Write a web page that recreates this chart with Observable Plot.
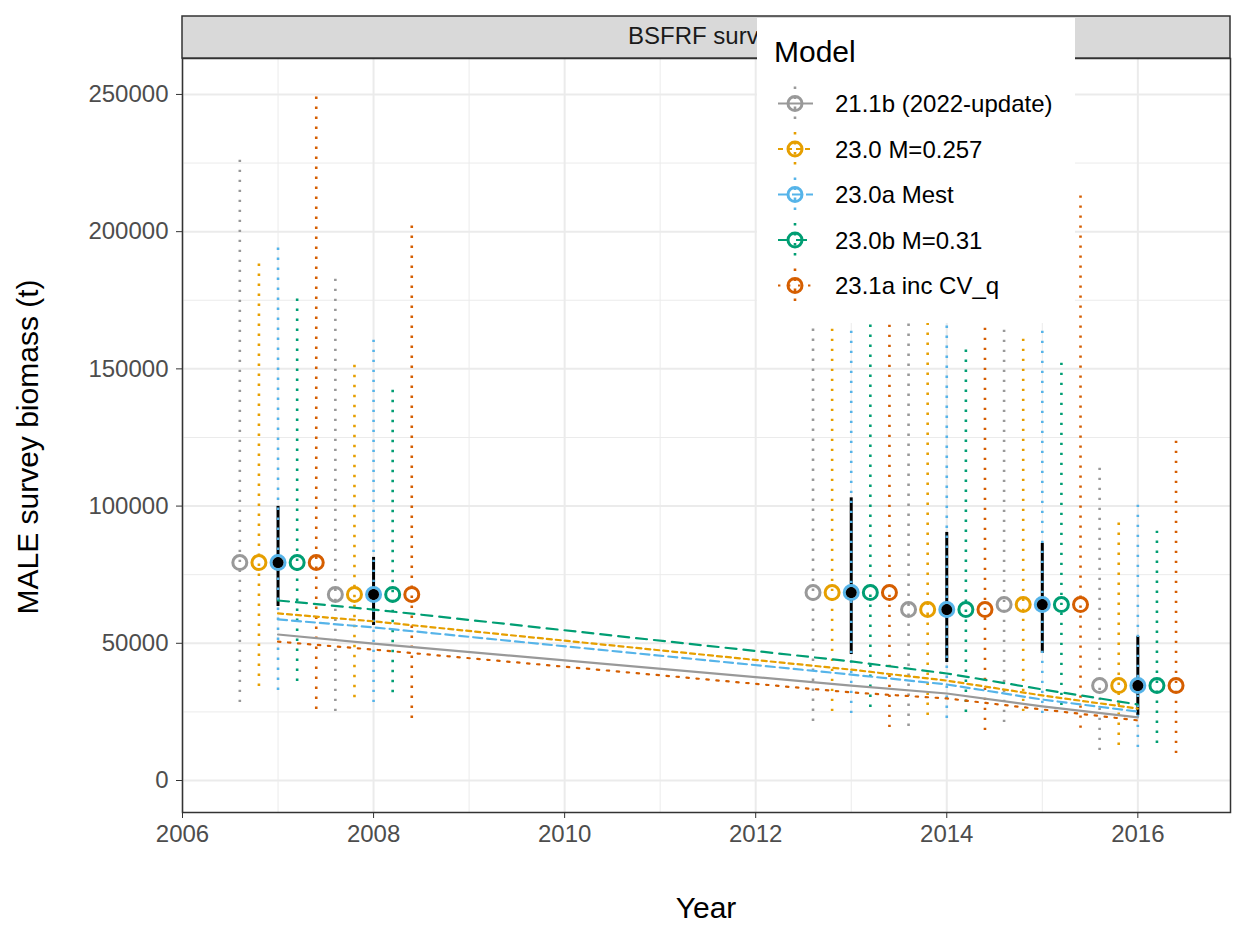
<!DOCTYPE html>
<html><head><meta charset="utf-8">
<script src="https://cdn.jsdelivr.net/npm/d3@7"></script>
<script src="https://cdn.jsdelivr.net/npm/@observablehq/plot@0.6"></script>
<style>body{margin:0;background:#fff;}</style>
</head><body><div id="chart"></div>
<script>
// ---- data ----
const models = ["21.1b (2022-update)", "23.0 M=0.257", "23.0a Mest", "23.0b M=0.31", "23.1a inc CV_q"];
const colors = ["#999999", "#E69F00", "#56B4E9", "#009E73", "#D55E00"];
const years = [2007, 2008, 2013, 2014, 2015, 2016];
const xTicks = [2006, 2008, 2010, 2012, 2014, 2016];
const yTicks = [0, 50000, 100000, 150000, 200000, 250000];

// observed survey biomass and its interval
const obsValue = [79400, 67800, 68500, 62300, 64100, 34600];
const obsLow   = [63400, 56500, 45900, 43000, 46300, 23700];
const obsHigh  = [99900, 81300, 103000, 90400, 86400, 52500];

// predicted survey biomass by model
const pred_21_1b = [53200, 49900, 34600, 31700, 27000, 23000];
const pred_23_0  = [60900, 58000, 40400, 36400, 31000, 26200];
const pred_23_0a = [58700, 55800, 38600, 35000, 29500, 25100];
const pred_23_0b = [65600, 62300, 43400, 39000, 33200, 27700];
const pred_23_1a = [50600, 47700, 32100, 29900, 25900, 21900];

// model-specific intervals around observations
const low_21_1b  = [28400, 25100, 21500, 19700, 21100, 10900];
const high_21_1b = [227000, 183300, 185000, 178000, 172000, 114800];
const low_23_0   = [34300, 30200, 25100, 23700, 25100, 12800];
const high_23_0  = [188800, 152300, 172000, 170000, 162200, 94000];
const low_23_0a  = [32800, 28400, 24400, 22600, 24400, 12000];
const high_23_0a = [194600, 161400, 178000, 175000, 168000, 101500];
const low_23_0b  = [36100, 32000, 26600, 24800, 27300, 13500];
const high_23_0b = [176000, 143200, 170000, 157800, 153000, 90800];
const low_23_1a  = [25900, 22600, 19300, 18200, 19000, 9800];
const high_23_1a = [250400, 203000, 205000, 200000, 215000, 125000];

// ---- build tables ----
const preds = [pred_21_1b, pred_23_0, pred_23_0a, pred_23_0b, pred_23_1a];
const lows = [low_21_1b, low_23_0, low_23_0a, low_23_0b, low_23_1a];
const highs = [high_21_1b, high_23_0, high_23_0a, high_23_0b, high_23_1a];
const dashes = ["none", "5,4", "9,5", "11,7", "2.4,7.6"];
const dodgeWidth = 0.2;

const obsRows = years.map((y, j) => ({year: y, value: obsValue[j], lo: obsLow[j], hi: obsHigh[j]}));
const modelRows = [];
const predRows = [];
models.forEach((m, i) => {
  years.forEach((y, j) => {
    modelRows.push({model: m, x: y + (i - 2) * dodgeWidth, value: obsValue[j], lo: lows[i][j], hi: highs[i][j]});
    predRows.push({model: m, year: y, pred: preds[i][j]});
  });
});

const gridColor = "#EBEBEB";
const plot = Plot.plot({
  width: 1235, height: 927,
  marginLeft: 182, marginRight: 5, marginTop: 58, marginBottom: 115,
  style: {fontFamily: "'Liberation Sans', Arial, sans-serif", fontSize: "24px", background: "white"},
  x: {domain: [2006, 2016.97]},
  y: {domain: [-11660, 263100]},
  color: {domain: models, range: colors},
  marks: [
    Plot.gridX([2007, 2009, 2011, 2013, 2015], {stroke: gridColor, strokeOpacity: 1, strokeWidth: 1}),
    Plot.gridY([25000, 75000, 125000, 175000, 225000], {stroke: gridColor, strokeOpacity: 1, strokeWidth: 1}),
    Plot.gridX(xTicks, {stroke: gridColor, strokeOpacity: 1, strokeWidth: 2}),
    Plot.gridY(yTicks, {stroke: gridColor, strokeOpacity: 1, strokeWidth: 2}),
    Plot.ruleX(obsRows, {x: "year", y1: "lo", y2: "hi", stroke: "black", strokeWidth: 3}),
    Plot.ruleX(modelRows, {x: "x", y1: "lo", y2: "hi", stroke: "model", strokeWidth: 2.6, strokeDasharray: "2.4,7.6"}),
    ...models.map((m, i) => Plot.line(predRows.filter(d => d.model === m),
      {x: "year", y: "pred", stroke: "model", strokeWidth: 2.2, strokeDasharray: dashes[i]})),
    Plot.dot(modelRows, {x: "x", y: "value", stroke: "model", r: 7, strokeWidth: 3, fill: "none"}),
    Plot.dot(obsRows, {x: "year", y: "value", fill: "black", r: 5.5}),
    Plot.frame({stroke: "#333333", strokeWidth: 1.5}),
    Plot.axisX(xTicks, {tickFormat: d3.format("d"), tickSize: 6, tickPadding: 6, stroke: "#333333", fill: "#4D4D4D", label: null}),
    Plot.axisY(yTicks, {tickFormat: d3.format("d"), tickSize: 6, tickPadding: 8, stroke: "#333333", fill: "#4D4D4D", label: null})
  ]
});
document.getElementById("chart").appendChild(plot);

// ---- decorations: strip, titles, legend ----
const svg = d3.select(plot);
const font = "'Liberation Sans', Arial, sans-serif";
svg.append("rect").attr("x", 182).attr("y", 16).attr("width", 1048).attr("height", 42)
  .attr("fill", "#D9D9D9").attr("stroke", "#333333").attr("stroke-width", 1.5);
svg.append("text").attr("x", 706).attr("y", 44).attr("text-anchor", "middle")
  .attr("font-family", font).attr("font-size", 24).attr("fill", "#1A1A1A").text("BSFRF survey");
svg.append("text").attr("x", 706).attr("y", 918).attr("text-anchor", "middle")
  .attr("font-family", font).attr("font-size", 30).attr("fill", "black").text("Year");
svg.append("text").attr("transform", "translate(38,447) rotate(-90)").attr("text-anchor", "middle")
  .attr("font-family", font).attr("font-size", 30).attr("fill", "black").text("MALE survey biomass (t)");

const lg = svg.append("g").attr("text-anchor", "start");
lg.append("rect").attr("x", 757).attr("y", 18).attr("width", 318).attr("height", 305).attr("fill", "white");
lg.append("text").attr("x", 774).attr("y", 62).attr("text-anchor", "start").attr("font-family", font).attr("font-size", 30)
  .attr("fill", "black").text("Model");
models.forEach((m, i) => {
  const cy = 103.5 + i * 45.5;
  lg.append("line").attr("x1", 778).attr("x2", 813).attr("y1", cy).attr("y2", cy)
    .attr("stroke", colors[i]).attr("stroke-width", 2.2).attr("stroke-dasharray", dashes[i]);
  lg.append("line").attr("x1", 795).attr("x2", 795).attr("y1", cy - 17).attr("y2", cy + 17)
    .attr("stroke", colors[i]).attr("stroke-width", 2.6).attr("stroke-dasharray", "2.4,7.6");
  lg.append("circle").attr("cx", 795).attr("cy", cy).attr("r", 7)
    .attr("stroke", colors[i]).attr("stroke-width", 3).attr("fill", "none");
  lg.append("text").attr("x", 835).attr("y", cy + 8.5).attr("text-anchor", "start").attr("font-family", font).attr("font-size", 24)
    .attr("fill", "black").text(m);
});
</script>
</body></html>
